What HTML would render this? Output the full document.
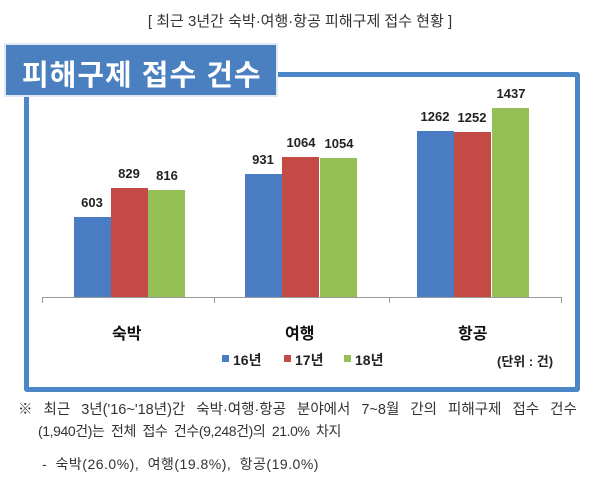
<!DOCTYPE html>
<html><head><meta charset="utf-8"><style>
body{margin:0;width:600px;height:486px;background:#fff;position:relative;overflow:hidden;font-family:"Liberation Sans","Noto Sans CJK KR",sans-serif;}
.a{position:absolute;white-space:nowrap;}
.frame{position:absolute;left:24px;top:72px;width:546px;height:310px;border:5px solid #4a86c8;border-radius:3px;}
.tbox{position:absolute;left:6px;top:45px;width:270px;height:50px;background:#4a7fc0;box-shadow:0 0 0 2px #dfe8f4;}
.bar{position:absolute;width:37px;}
.b{background:#4a7cc4}.r{background:#c44a46}.g{background:#95c055}
.v{position:absolute;width:60px;text-align:center;font-weight:bold;font-size:13px;color:#222;}
.c{position:absolute;font-weight:bold;font-size:16px;color:#111;}
</style></head><body>
<div class="a" style="left:0;width:600px;text-align:center;top:10px;font-size:15px;color:#333">[ 최근 3년간 숙박·여행·항공 피해구제 접수 현황 ]</div>
<div class="frame"></div>
<div class="tbox"></div>
<div class="a" style="left:22px;top:52px;font-size:29px;font-weight:bold;color:#fff;letter-spacing:1px">피해구제 접수 건수</div>

<div class="a" style="left:42px;top:297px;width:520px;height:1px;background:#999"></div>
<div class="a" style="left:42px;top:297px;width:1px;height:6px;background:#999"></div>
<div class="a" style="left:214px;top:297px;width:1px;height:6px;background:#999"></div>
<div class="a" style="left:389px;top:297px;width:1px;height:6px;background:#999"></div>
<div class="a" style="left:561px;top:297px;width:1px;height:6px;background:#999"></div>

<div class="bar b" style="left:74px;top:217px;height:80px"></div>
<div class="bar r" style="left:111px;top:188px;height:109px"></div>
<div class="bar g" style="left:148px;top:190px;height:107px"></div>
<div class="bar b" style="left:245px;top:174px;height:123px"></div>
<div class="bar r" style="left:282px;top:157px;height:140px"></div>
<div class="bar g" style="left:320px;top:158px;height:139px"></div>
<div class="bar b" style="left:417px;top:131px;height:166px"></div>
<div class="bar r" style="left:454px;top:132px;height:165px"></div>
<div class="bar g" style="left:492px;top:108px;height:189px"></div>

<div class="v" style="left:62px;top:195px">603</div>
<div class="v" style="left:99px;top:166px">829</div>
<div class="v" style="left:137px;top:168px">816</div>
<div class="v" style="left:233px;top:152px">931</div>
<div class="v" style="left:271px;top:135px">1064</div>
<div class="v" style="left:309px;top:136px">1054</div>
<div class="v" style="left:405px;top:109px">1262</div>
<div class="v" style="left:442px;top:110px">1252</div>
<div class="v" style="left:481px;top:86px">1437</div>

<div class="c" style="left:112px;top:320px">숙박</div>
<div class="c" style="left:285px;top:320px">여행</div>
<div class="c" style="left:458px;top:320px">항공</div>

<div class="a" style="left:222px;top:355px;width:7px;height:7px;background:#4a7cc4"></div>
<div class="a" style="left:233px;top:350px;font-size:14px;font-weight:bold;color:#222">16년</div>
<div class="a" style="left:284px;top:355px;width:7px;height:7px;background:#c44a46"></div>
<div class="a" style="left:295px;top:350px;font-size:14px;font-weight:bold;color:#222">17년</div>
<div class="a" style="left:344px;top:355px;width:7px;height:7px;background:#95c055"></div>
<div class="a" style="left:355px;top:350px;font-size:14px;font-weight:bold;color:#222">18년</div>
<div class="a" style="left:497px;top:351px;font-size:13px;font-weight:bold;color:#222">(단위 : 건)</div>

<div class="a" style="left:18px;top:398px;font-size:14.5px;color:#333;word-spacing:7px">※ 최근 3년('16~'18년)간 숙박·여행·항공 분야에서 7~8월 간의 피해구제 접수 건수</div>
<div class="a" style="left:38px;top:421px;font-size:14px;color:#333;letter-spacing:-0.4px;word-spacing:3px">(1,940건)는 전체 접수 건수(9,248건)의 21.0% 차지</div>
<div class="a" style="left:42px;top:454px;font-size:14px;color:#333;letter-spacing:0.5px;word-spacing:4px">- 숙박(26.0%), 여행(19.8%), 항공(19.0%)</div>
</body></html>
